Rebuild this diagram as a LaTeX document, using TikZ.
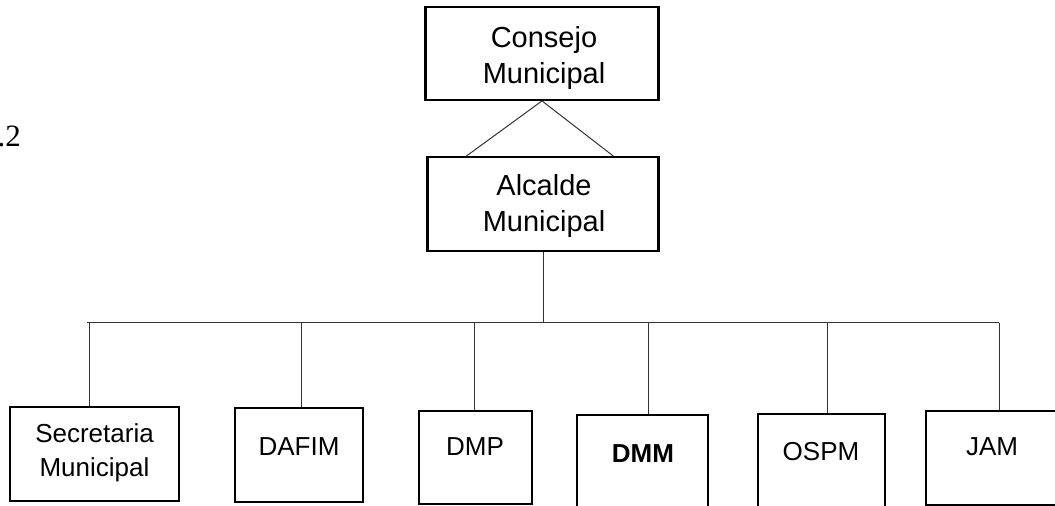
\documentclass[tikz,border=0pt]{standalone}
\usepackage{fontspec}
\setmainfont{Liberation Sans}
\newfontfamily\figserif{Liberation Serif}
\usetikzlibrary{calc}
\tikzset{
  box/.style={draw, line width=2.2bp, inner sep=0pt},
  conn/.style={draw=black!80, line width=1bp},
  smalltxt/.style={font=\fontsize{26bp}{34bp}\selectfont, align=center, inner sep=0pt, anchor=base},
  bigtxt/.style={font=\fontsize{29bp}{36bp}\selectfont, align=center, inner sep=0pt, anchor=base},
}
\begin{document}
\begin{tikzpicture}[x=1bp,y=-1bp]
\useasboundingbox (0,0) rectangle (1055,506);
\clip (0,0) rectangle (1055,506);

% boxes
\node[box, minimum width=234, minimum height=93] (cons) at (542,53.5) {};
\node[box, minimum width=232, minimum height=94] (alc) at (543,204) {};
\node[box, minimum width=169, minimum height=94] (sec) at (94.5,454) {};
\node[box, minimum width=128, minimum height=94] (dafim) at (299,455) {};
\node[box, minimum width=113, minimum height=93] (dmp) at (475.5,457.5) {};
\node[box, minimum width=131, minimum height=110] (dmm) at (642.5,470) {};
\node[box, minimum width=127, minimum height=111] (ospm) at (821.5,469.5) {};
\node[box, minimum width=144, minimum height=94] (jam) at (998,458) {};

% texts (base anchor = baseline of the last line)
\node[bigtxt] (tcons) at (544,84) {Consejo\\Municipal};
\node[bigtxt] (talc) at (544,232) {Alcalde\\Municipal};
\node[smalltxt] (tsec) at (94.5,476) {Secretaria\\Municipal};
\node[smalltxt] (tdafim) at (299,455) {DAFIM};
\node[smalltxt] (tdmp) at (475,455) {DMP};
\node[smalltxt, font=\fontsize{26bp}{34bp}\selectfont\bfseries] (tdmm) at (643,462) {DMM};
\node[smalltxt] (tospm) at (821,460) {OSPM};
\node[smalltxt] (tjam) at (992,455) {JAM};
\node[font=\figserif\fontsize{31bp}{36bp}\selectfont, anchor=base east, inner sep=0pt] (fig) at (21,147) {.2};

% connectors
\draw[conn] (cons.south) -- ($(alc.north west)+(40,0)$);
\draw[conn] (cons.south) -- ($(alc.north west)+(187,0)$);
\coordinate (busL) at (87,323);
\coordinate (busR) at (999,323);
\draw[conn] (busL) -- (busR);
\draw[conn] (alc.south) -- (alc.south |- busL);
\foreach \n/\x in {sec/89, dafim/301, dmp/474, dmm/648, ospm/827, jam/999}{
  \coordinate (v-\n) at (\x,323);
  \draw[conn] (v-\n) -- (v-\n |- \n.north);
}
\end{tikzpicture}
\end{document}
